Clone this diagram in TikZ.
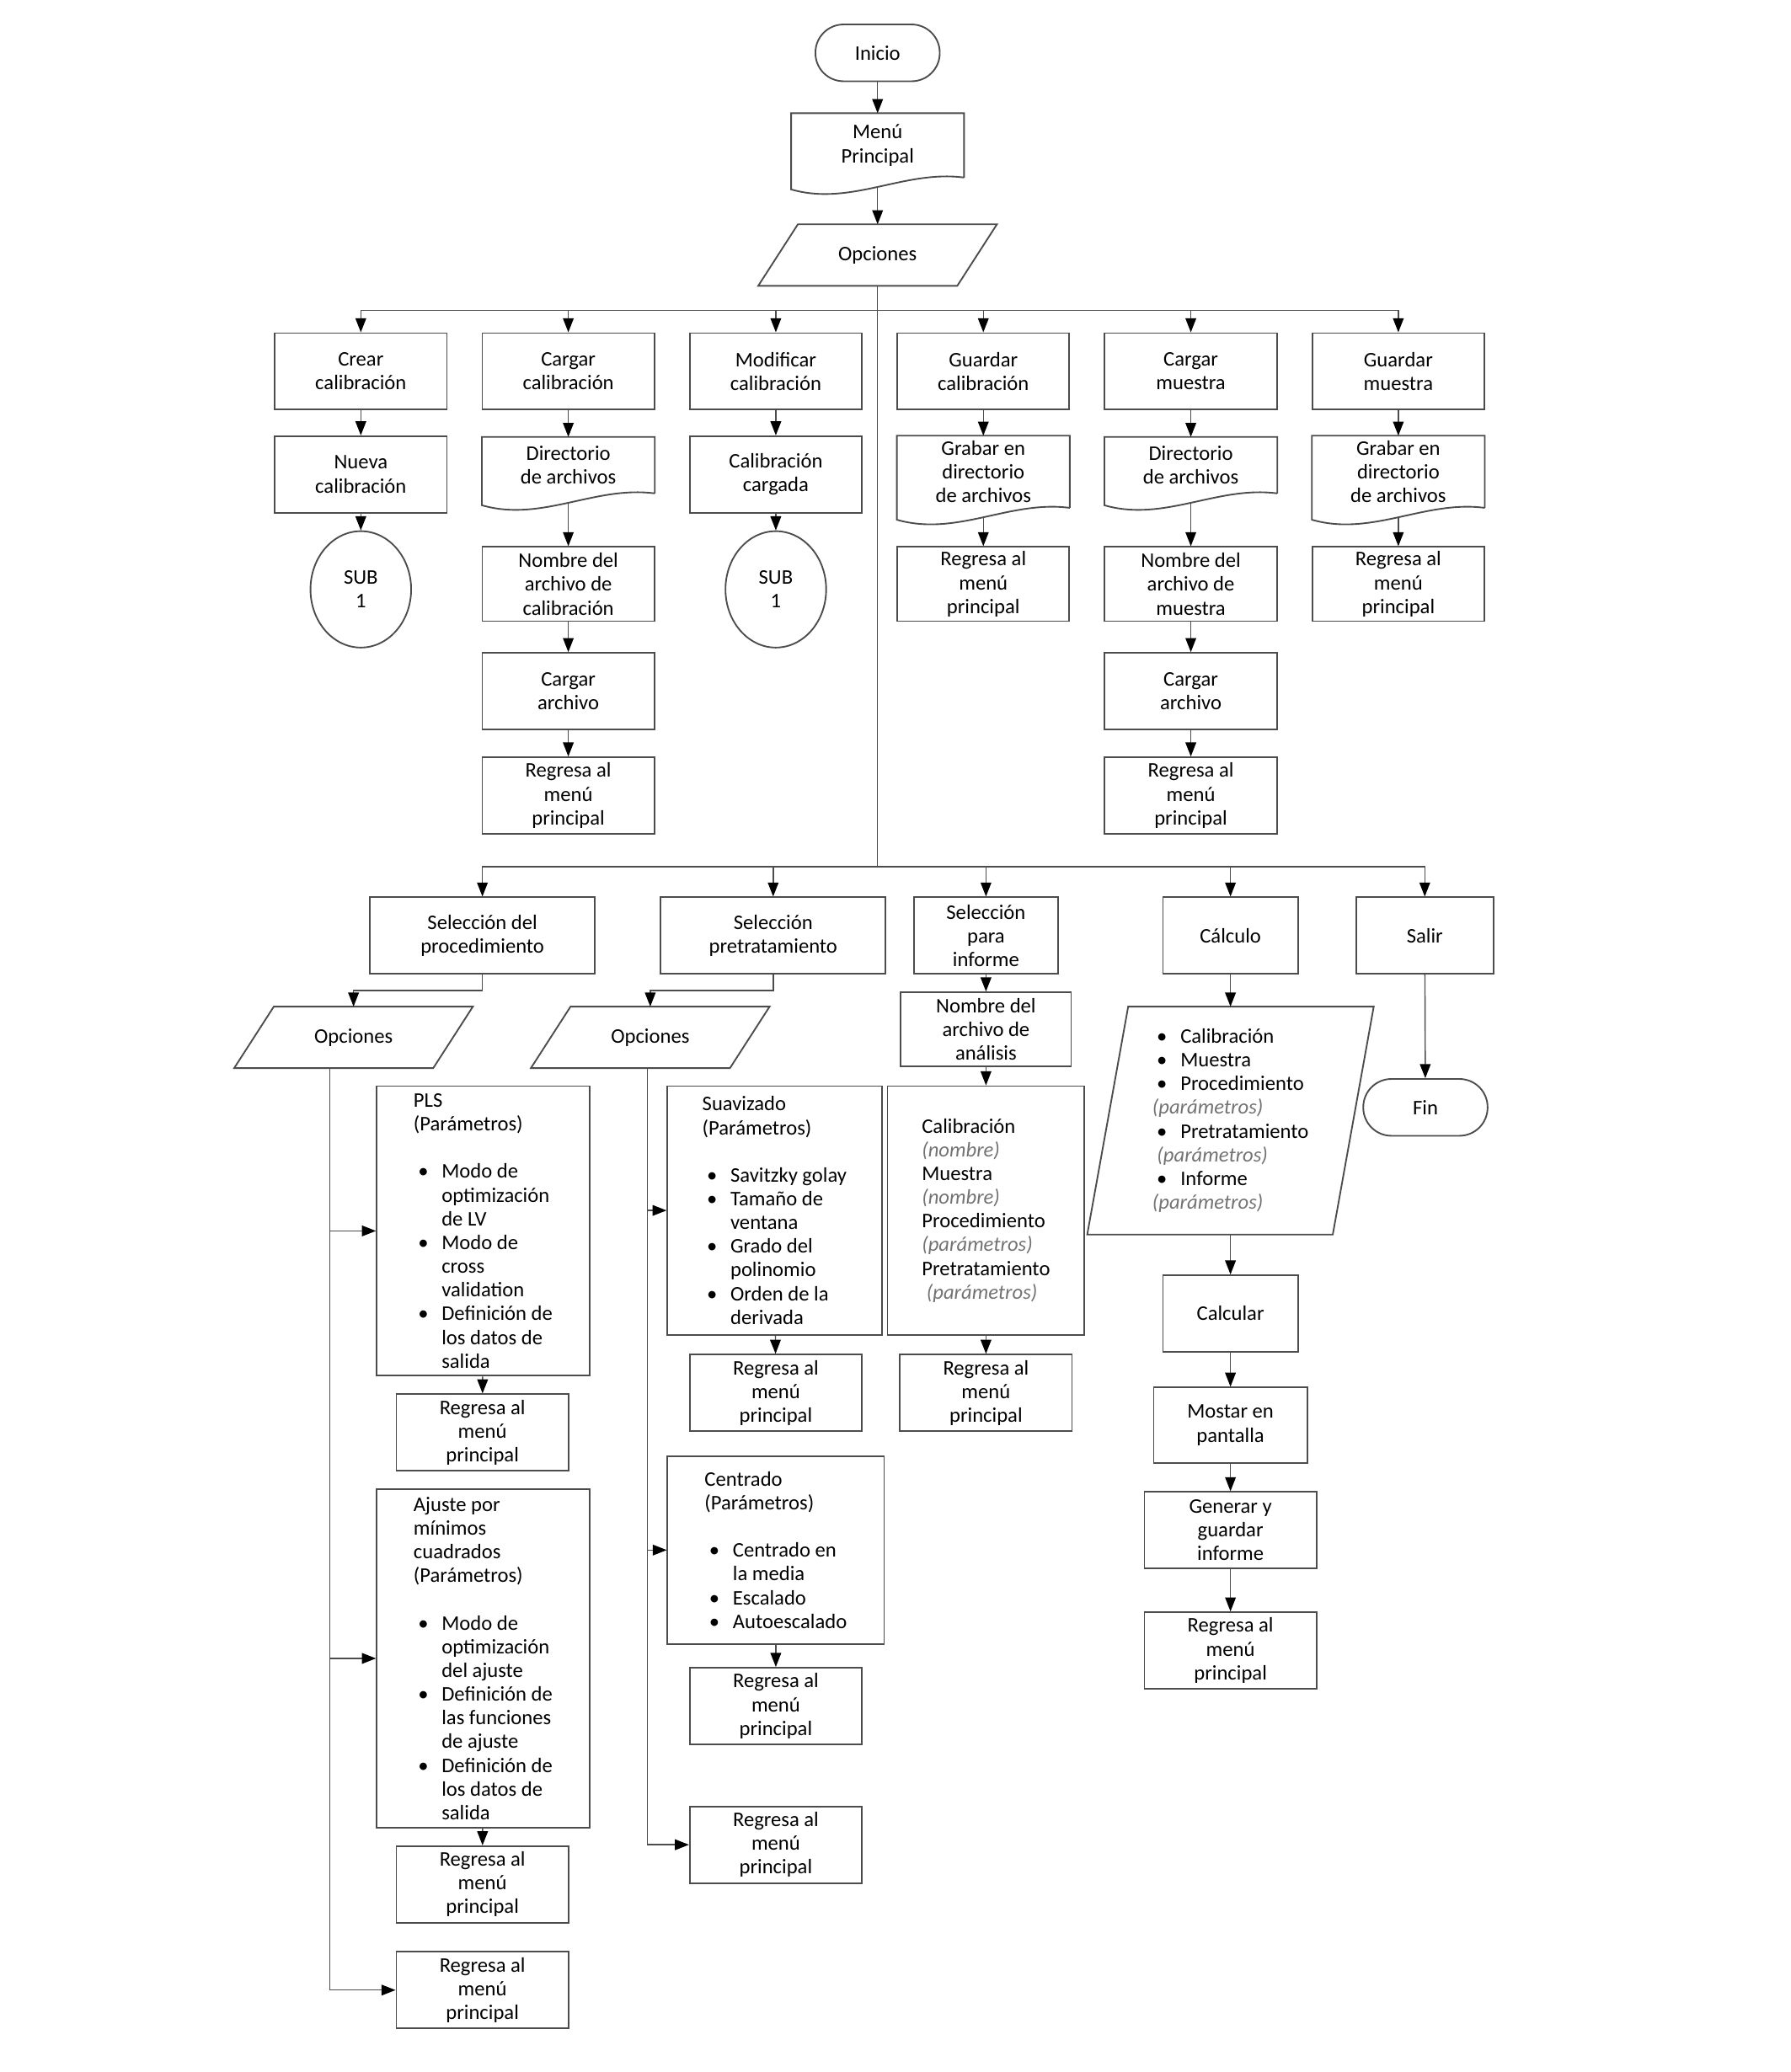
\documentclass[tikz,border=0pt]{standalone}
\usepackage{fontspec}
\setmainfont{Carlito}
\usepackage{xcolor}
\usepackage{tikz}
\usetikzlibrary{arrows.meta,positioning,calc,shapes.geometric}

\newcommand{\bul}{\hspace*{0.08cm}\makebox[0.42cm][l]{\textbullet}}
\newcommand{\ind}{\hspace*{0.5cm}}
\newcommand{\prm}[1]{{\itshape\color{black!55}#1}}

\begin{document}
\begin{tikzpicture}[
  x=0.0235cm, y=-0.0235cm,
  font=\fontsize{10.5}{12}\selectfont,
  proc/.style={draw=black!70, line width=0.8pt, rectangle, minimum width=3.06cm, minimum height=1.36cm, align=center, inner xsep=2pt, inner ysep=1pt},
  lst/.style={proc, align=left},
  docu/.style={rectangle, minimum width=3.06cm, align=center, inner sep=1pt},
  iobox/.style={rectangle, minimum width=4.23cm, minimum height=1.08cm, align=center, inner sep=1pt},
  term/.style={draw=black!70, line width=0.8pt, rounded corners=0.5cm, minimum width=2.21cm, minimum height=1.01cm},
  conn/.style={draw=black!70, line width=0.8pt, ellipse, minimum width=1.79cm, minimum height=2.07cm, align=center, inner sep=1pt},
  line/.style={line width=0.6pt, draw=black!70},
  arrow/.style={-{Triangle[length=2.5mm,width=1.9mm,color=black]}, line width=0.6pt, draw=black!70}
]
\path[fill=white] (0,0) rectangle (1355,1568);

\node[term] (ini) at (664,40) {Inicio};
\node[docu, minimum height=1.13cm] (menu) at (664,110) {Menú\\Principal};
\node[iobox] (opc) at (664,193) {Opciones};
\coordinate (bus1) at (664,235);
\coordinate (bus2) at (664,656);

\node[proc] (crear) at (273,281) {Crear\\calibración};
\node[proc] (cargc) at (430,281) {Cargar\\calibración};
\node[proc] (modc) at (587,281) {Modificar\\calibración};
\node[proc] (guardc) at (744,281) {Guardar\\calibración};
\node[proc] (cargm) at (901,281) {Cargar\\muestra};
\node[proc] (guardm) at (1058,281) {Guardar\\muestra};

\node[proc] (nueva) at (273,359) {Nueva\\calibración};
\node[docu, minimum height=0.99cm] (dirc) at (430,352) {Directorio\\de archivos};
\node[proc] (calcarg) at (587,359) {Calibración\\cargada};
\node[docu, minimum height=1.27cm] (grabc) at (744,357) {Grabar en\\directorio\\de archivos};
\node[docu, minimum height=0.99cm] (dirm) at (901,352) {Directorio\\de archivos};
\node[docu, minimum height=1.27cm] (grabm) at (1058,357) {Grabar en\\directorio\\de archivos};

\node[conn] (sub1) at (273,446) {SUB\\1};
\node[proc, minimum height=1.32cm] (nomc) at (430,442) {Nombre del\\archivo de\\calibración};
\node[conn] (sub2) at (587,446) {SUB\\1};
\node[proc, minimum height=1.32cm] (regg1) at (744,442) {Regresa al\\menú\\principal};
\node[proc, minimum height=1.32cm] (nomm) at (901,442) {Nombre del\\archivo de\\muestra};
\node[proc, minimum height=1.32cm] (regg2) at (1058,442) {Regresa al\\menú\\principal};

\node[proc] (cargac) at (430,523) {Cargar\\archivo};
\node[proc] (cargam) at (901,523) {Cargar\\archivo};
\node[proc] (regc) at (430,602) {Regresa al\\menú\\principal};
\node[proc] (regm) at (901,602) {Regresa al\\menú\\principal};

\node[proc, minimum width=4.00cm] (sproc) at (365,708) {Selección del\\procedimiento};
\node[proc, minimum width=4.00cm] (spre) at (585,708) {Selección\\pretratamiento};
\node[proc, minimum width=2.56cm] (sinf) at (746,708) {Selección\\para\\informe};
\node[proc, minimum width=2.40cm] (calc) at (931,708) {Cálculo};
\node[proc, minimum width=2.44cm] (salir) at (1078,708) {Salir};

\node[iobox] (opc1) at (267.5,785) {Opciones};
\node[iobox] (opc2) at (492,785) {Opciones};

\node[lst, minimum width=3.78cm, minimum height=5.15cm] (pls) at (365.5,931.5) {PLS\\(Parámetros)\\[12pt]\bul Modo de\\\ind optimización\\\ind de LV\\\bul Modo de\\\ind cross\\\ind validation\\\bul Definición de\\\ind los datos de\\\ind salida};
\node[proc] (regp1) at (365,1084) {Regresa al\\menú\\principal};
\node[lst, minimum width=3.78cm, minimum height=6.02cm] (aju) at (365.5,1255) {Ajuste por\\mínimos\\cuadrados\\(Parámetros)\\[12pt]\bul Modo de\\\ind optimización\\\ind del ajuste\\\bul Definición de\\\ind las funciones\\\ind de ajuste\\\bul Definición de\\\ind los datos de\\\ind salida};
\node[proc] (regp2) at (365,1426) {Regresa al\\menú\\principal};
\node[proc] (regp3) at (365,1506) {Regresa al\\menú\\principal};

\node[lst, minimum width=3.81cm, minimum height=4.42cm] (suav) at (586,916) {Suavizado\\(Parámetros)\\[12pt]\bul Savitzky golay\\\bul Tamaño de\\\ind ventana\\\bul Grado del\\\ind polinomio\\\bul Orden de la\\\ind derivada};
\node[proc] (regs1) at (587,1054) {Regresa al\\menú\\principal};
\node[lst, minimum width=3.85cm, minimum height=3.34cm] (cent) at (587,1173) {Centrado\\(Parámetros)\\[12pt]\bul Centrado en\\\ind la media\\\bul Escalado\\\bul Autoescalado};
\node[proc] (regs2) at (587,1291) {Regresa al\\menú\\principal};
\node[proc] (regs3) at (587,1396) {Regresa al\\menú\\principal};

\node[proc, minimum width=3.03cm, minimum height=1.32cm] (nomana) at (746,779) {Nombre del\\archivo de\\análisis};
\node[lst, minimum width=3.50cm, minimum height=4.42cm] (infl) at (746,916) {Calibración\\\prm{(nombre)}\\Muestra\\\prm{(nombre)}\\Procedimiento\\\prm{(parámetros)}\\Pretratamiento\\\prm{\ (parámetros)}};
\node[proc] (regi) at (746,1054) {Regresa al\\menú\\principal};

\node[iobox, minimum width=5.08cm, minimum height=4.04cm, align=left] (calio) at (931,848) {\bul Calibración\\\bul Muestra\\\bul Procedimiento\\\prm{(parámetros)}\\\bul Pretratamiento\\\prm{\ (parámetros)}\\\bul Informe\\\prm{(parámetros)}};
\node[proc, minimum width=2.40cm] (calcu) at (931,994) {Calcular};
\node[proc, minimum width=2.73cm, minimum height=1.34cm] (most) at (931,1078.5) {Mostar en\\pantalla};
\node[proc] (gen) at (931,1158) {Generar y\\guardar\\informe};
\node[proc] (regk) at (931,1249) {Regresa al\\menú\\principal};
\node[term] (fin) at (1078.5,838) {Fin};

\foreach \n/\s in {opc/30,opc1/30,opc2/30,calio/31}
  \draw[line, line width=0.8pt] ($(\n.north west)+(\s,0)$) -- (\n.north east) -- ($(\n.south east)+(-\s,0)$) -- (\n.south west) -- cycle;
\foreach \n in {menu,dirc,grabc,dirm,grabm}{
  \draw[line, line width=0.8pt] (\n.south east) -- (\n.north east) -- (\n.north west) -- ($(\n.south west)+(0,9)$) .. controls ($(\n.south)+(-20,22)$) and ($(\n.south)+(20,-6)$) .. (\n.south east);
  \coordinate (\n-w) at ($(\n.south)+(0,7)$);
}

\draw[arrow] (ini) -- (menu);
\draw[arrow] (menu-w) -- (opc);
\draw[line] (opc.south) -- (bus2);
\foreach \b in {crear,cargc,modc,guardc,cargm,guardm} \draw[arrow] (bus1) -| (\b.north);
\foreach \b in {sproc,spre,sinf,calc,salir} \draw[arrow] (bus2) -| (\b.north);
\foreach \a/\b in {crear/nueva,nueva/sub1,cargc/dirc,dirc-w/nomc,nomc/cargac,cargac/regc,modc/calcarg,calcarg/sub2,guardc/grabc,grabc-w/regg1,cargm/dirm,dirm-w/nomm,nomm/cargam,cargam/regm,guardm/grabm,grabm-w/regg2} \draw[arrow] (\a) -- (\b);

\draw[arrow] (sproc.south) -- ++(0,12) -| (opc1.north);
\draw[arrow] (spre.south) -- ++(0,12) -| (opc2.north);
\foreach \b in {pls,aju,regp3} \draw[arrow] ([xshift=-0.42cm]opc1.south) |- (\b.west);
\foreach \b in {suav,cent,regs3} \draw[arrow] ([xshift=-0.05cm]opc2.south) |- (\b.west);
\foreach \a/\b in {pls/regp1,aju/regp2,suav/regs1,cent/regs2,sinf/nomana,nomana/infl,infl/regi,calc/calio,calio/calcu,calcu/most,most/gen,gen/regk,salir/fin} \draw[arrow] (\a) -- (\b);
\end{tikzpicture}
\end{document}
